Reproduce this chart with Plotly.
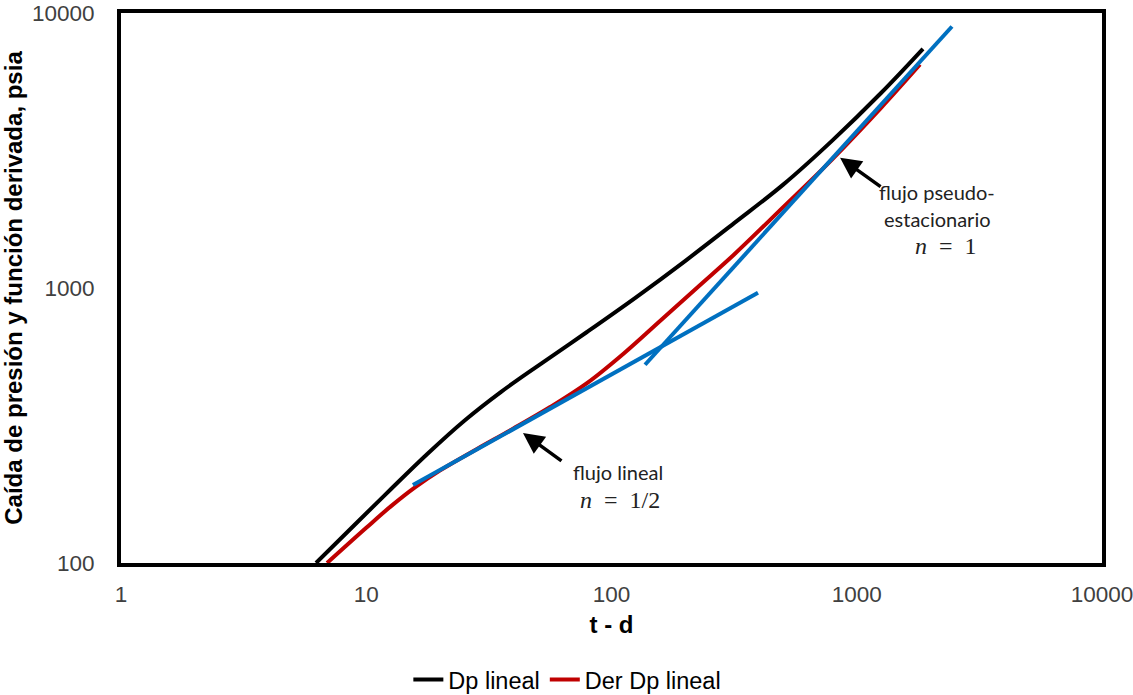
import plotly.graph_objects as go

# ---- data ----
t_dp = [6.24, 8.91, 12.59, 17.78, 25.12, 35.48, 50.12, 79.43, 125.9, 199.5, 316.2, 501.2, 794.3, 1259, 1862]
dp = [100, 136.9, 185.5, 249.7, 329.2, 419.2, 521.2, 691.8, 924.7, 1253, 1721, 2376, 3435, 5128, 7408]

t_der = [6.92, 10.0, 12.59, 15.85, 19.95, 28.18, 39.81, 56.23, 79.43, 112.2, 158.5, 223.9, 316.2,
         501.2, 794.3, 1259, 1811]
der = [100, 134.3, 160.7, 188.8, 216.8, 259.4, 308.3, 369.0, 450.8, 578.1, 762.1, 1005, 1324,
       1968, 2938, 4529, 6496]

t_half = [15.5, 395.6]
y_half = [192, 961]

t_one = [137, 2445]
y_one = [526, 8930]

x_ticks = [1, 10, 100, 1000, 10000]
y_ticks = [100, 1000, 10000]

BLACK = "#000000"
RED = "#C00000"
BLUE = "#0070C0"

fig = go.Figure()
fig.add_trace(go.Scatter(x=t_dp, y=dp, mode="lines", name="Dp lineal",
                         line=dict(color=BLACK, width=4, shape="spline", smoothing=1.0)))
fig.add_trace(go.Scatter(x=t_der, y=der, mode="lines", name="Der Dp lineal",
                         line=dict(color=RED, width=4, shape="spline", smoothing=1.0)))
fig.add_trace(go.Scatter(x=t_half, y=y_half, mode="lines", line=dict(color=BLUE, width=4),
                         showlegend=False, hoverinfo="skip"))
fig.add_trace(go.Scatter(x=t_one, y=y_one, mode="lines", line=dict(color=BLUE, width=4),
                         showlegend=False, hoverinfo="skip"))

tickfont = dict(family="Liberation Sans, Arial, sans-serif", size=22.5, color="#404040")
titlefont = dict(family="Liberation Sans, Arial, sans-serif", size=24, color="#000000")

fig.update_layout(
    width=1133, height=695,
    margin=dict(l=121, r=31, t=13, b=132),
    paper_bgcolor="white", plot_bgcolor="white",
    showlegend=True,
    legend=dict(orientation="h", x=0.455, xanchor="center",
                yref="container", y=0.022, yanchor="middle",
                font=dict(family="Liberation Sans, Arial, sans-serif", size=23.5, color="#000000"),
                bgcolor="rgba(0,0,0,0)"),
    xaxis=dict(type="log", range=[0, 4], tickvals=x_ticks, ticktext=[str(v) for v in x_ticks],
               showgrid=False, zeroline=False, showline=True, linecolor="black", linewidth=4,
               mirror=True, ticks="", tickfont=tickfont, ticklabelstandoff=8, automargin=False,
               ticklabeloverflow="allow",
               title=dict(text="<b>t - d</b>", font=titlefont, standoff=11)),
    yaxis=dict(type="log", range=[2, 4], tickvals=y_ticks, ticktext=[str(v) for v in y_ticks],
               showgrid=False, zeroline=False, showline=True, linecolor="black", linewidth=4,
               mirror=True, ticks="", tickfont=tickfont, ticklabelstandoff=18, automargin=False,
               ticklabeloverflow="allow",
               title=dict(text="<b>Caída de presión y función derivada, psia</b>", font=titlefont,
                          standoff=4)),
)

txtfont = dict(family="Lato, Open Sans, sans-serif", size=20, color="#222222")
mathfont = dict(family="Liberation Serif, DejaVu Serif, serif", size=24, color="#222222")

# arrows
fig.add_annotation(x=1.639, y=2.473, xref="x", yref="y", ax=40, ay=29, text="",
                   showarrow=True, arrowhead=2, arrowsize=1.2, arrowwidth=3.5, arrowcolor="black")
fig.add_annotation(x=2.932, y=3.474, xref="x", yref="y", ax=42, ay=30, text="",
                   showarrow=True, arrowhead=2, arrowsize=1.2, arrowwidth=3.5, arrowcolor="black")

# labels
fig.add_annotation(x=0.5066, y=0.1655, xref="paper", yref="paper", text="flujo lineal",
                   showarrow=False, font=txtfont, xanchor="center", yanchor="middle")
fig.add_annotation(x=0.5087, y=0.1145, xref="paper", yref="paper",
                   text="<i>n</i>&nbsp;&nbsp;=&nbsp;&nbsp;1/2",
                   showarrow=False, font=mathfont, xanchor="center", yanchor="middle")
fig.add_annotation(x=0.832, y=0.6745, xref="paper", yref="paper", text="flujo pseudo-",
                   showarrow=False, font=txtfont, xanchor="center", yanchor="middle")
fig.add_annotation(x=0.832, y=0.6255, xref="paper", yref="paper", text="estacionario",
                   showarrow=False, font=txtfont, xanchor="center", yanchor="middle")
fig.add_annotation(x=0.841, y=0.576, xref="paper", yref="paper",
                   text="<i>n</i>&nbsp;&nbsp;=&nbsp;&nbsp;1",
                   showarrow=False, font=mathfont, xanchor="center", yanchor="middle")

fig.write_html("out.html", config={"displayModeBar": False},
               post_script="document.body.style.margin='0px';")
